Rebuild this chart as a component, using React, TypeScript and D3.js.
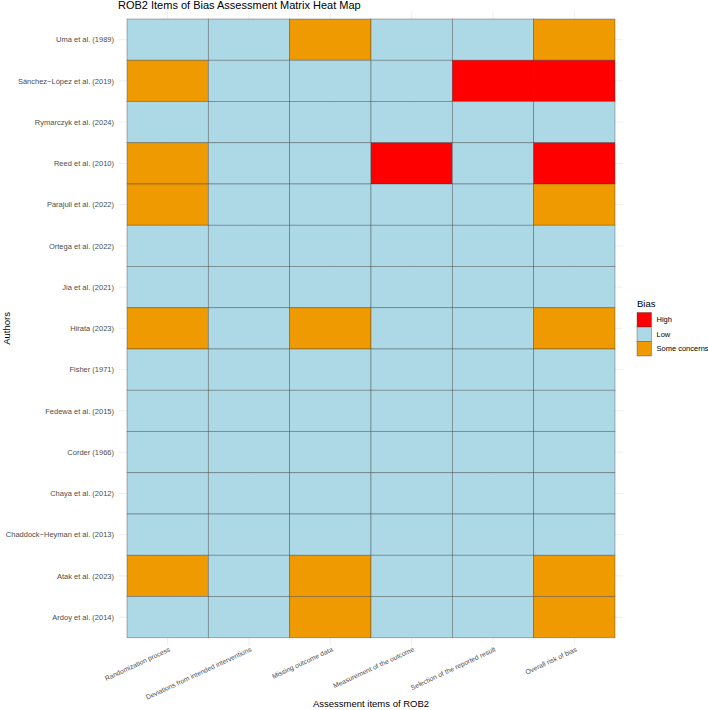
import React from "react";
import { scaleBand, scaleOrdinal } from "d3";

// assessment domains (x) and studies (y, top to bottom)
const items = [
  "Randomization process",
  "Deviations from intended interventions",
  "Missing outcome data",
  "Measurement of the outcome",
  "Selection of the reported result",
  "Overall risk of bias",
];

const authors = [
  "Uma et al. (1989)",
  "Sánchez−López et al. (2019)",
  "Rymarczyk et al. (2024)",
  "Reed et al. (2010)",
  "Parajuli et al. (2022)",
  "Ortega et al. (2022)",
  "Jia et al. (2021)",
  "Hirata (2023)",
  "Fisher (1971)",
  "Fedewa et al. (2015)",
  "Corder (1966)",
  "Chaya et al. (2012)",
  "Chaddock−Heyman et al. (2013)",
  "Atak et al. (2023)",
  "Ardoy et al. (2014)",
];

// H = High, L = Low, S = Some concerns; one row per author, one entry per item
const ratings = [
  ["L", "L", "S", "L", "L", "S"],
  ["S", "L", "L", "L", "H", "H"],
  ["L", "L", "L", "L", "L", "L"],
  ["S", "L", "L", "H", "L", "H"],
  ["S", "L", "L", "L", "L", "S"],
  ["L", "L", "L", "L", "L", "L"],
  ["L", "L", "L", "L", "L", "L"],
  ["S", "L", "S", "L", "L", "S"],
  ["L", "L", "L", "L", "L", "L"],
  ["L", "L", "L", "L", "L", "L"],
  ["L", "L", "L", "L", "L", "L"],
  ["L", "L", "L", "L", "L", "L"],
  ["L", "L", "L", "L", "L", "L"],
  ["S", "L", "S", "L", "L", "S"],
  ["L", "L", "S", "L", "L", "S"],
];

const levels = ["High", "Low", "Some concerns"];
const codes: Record<string, string> = { H: "High", L: "Low", S: "Some concerns" };

const font = "'Liberation Sans', Arial, Helvetica, sans-serif";

export default function App() {
  const width = 708;
  const height = 710;

  // tile area, plus a small expansion for the panel
  const tileLeft = 127, tileRight = 615, tileTop = 19, tileBottom = 637.75;
  const pad = 8;

  const x = scaleBand<string>().domain(items).range([tileLeft, tileRight]);
  const y = scaleBand<string>().domain(authors).range([tileTop, tileBottom]);
  const fill = scaleOrdinal<string, string>()
    .domain(levels)
    .range(["#FF0000", "#ADD8E6", "#EE9A00"]);

  const legendY = scaleBand<string>().domain(levels).range([312.5, 356]);

  const cells = authors.flatMap((a, i) =>
    items.map((it, j) => ({ author: a, item: it, bias: codes[ratings[i][j]] }))
  );

  return (
    <svg
      width={width}
      height={height}
      style={{ position: "absolute", left: 0, top: 0, background: "#fff" }}
      fontFamily={font}
    >
      {/* panel grid */}
      <g stroke="#EBEBEB" strokeWidth={0.8}>
        {authors.map((a) => (
          <line
            key={a}
            x1={tileLeft - pad}
            x2={tileRight + pad}
            y1={y(a)! + y.bandwidth() / 2}
            y2={y(a)! + y.bandwidth() / 2}
          />
        ))}
        {items.map((it) => (
          <line
            key={it}
            y1={tileTop - pad}
            y2={tileBottom + pad}
            x1={x(it)! + x.bandwidth() / 2}
            x2={x(it)! + x.bandwidth() / 2}
          />
        ))}
      </g>

      {/* tiles */}
      <g>
        {cells.map((c) => (
          <rect
            key={c.author + c.item}
            x={x(c.item)}
            y={y(c.author)}
            width={x.bandwidth()}
            height={y.bandwidth()}
            fill={fill(c.bias)}
            stroke="#333"
            strokeOpacity={0.5}
            strokeWidth={0.7}
          />
        ))}
      </g>

      {/* y axis labels */}
      <g fontSize={7.5} fill="#4D4D4D" textAnchor="end">
        {authors.map((a) => (
          <text key={a} x={114} y={y(a)! + y.bandwidth() / 2} dy="0.35em">
            {a}
          </text>
        ))}
      </g>

      {/* x axis labels, slanted */}
      <g fontSize={6.8} fill="#4D4D4D" textAnchor="end">
        {items.map((it) => {
          const cx = x(it)! + x.bandwidth() / 2 + 3;
          const cy = 651;
          return (
            <text key={it} x={cx} y={cy} transform={`rotate(-25 ${cx} ${cy})`}>
              {it}
            </text>
          );
        })}
      </g>

      {/* titles */}
      <text x={118} y={8.5} fontSize={11} fill="#000">
        ROB2 Items of Bias Assessment Matrix Heat Map
      </text>
      <text
        x={(tileLeft - pad + tileRight + pad) / 2}
        y={707}
        fontSize={9.5}
        textAnchor="middle"
        fill="#000"
      >
        Assessment items of ROB2
      </text>
      <text
        transform={`translate(9.5 ${(tileTop + tileBottom) / 2}) rotate(-90)`}
        fontSize={9.5}
        textAnchor="middle"
        fill="#000"
      >
        Authors
      </text>

      {/* legend */}
      <g>
        <text x={637} y={307} fontSize={9.5} fill="#000">
          Bias
        </text>
        {levels.map((l) => (
          <g key={l}>
            <rect
              x={637}
              y={legendY(l)}
              width={14.5}
              height={legendY.bandwidth()}
              fill={fill(l)}
              stroke="#333"
              strokeOpacity={0.5}
              strokeWidth={0.7}
            />
            <text
              x={656.5}
              y={legendY(l)! + legendY.bandwidth() / 2}
              dy="0.35em"
              fontSize={7.5}
              fill="#000"
            >
              {l}
            </text>
          </g>
        ))}
      </g>
    </svg>
  );
}
